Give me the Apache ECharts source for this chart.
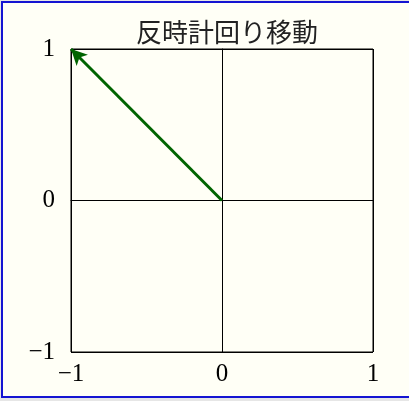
<!DOCTYPE html>
<html>
<head>
<meta charset="utf-8">
<script src="https://cdn.jsdelivr.net/npm/echarts@6/dist/echarts.min.js"></script>
<style>
  html, body { margin: 0; padding: 0; background: #e6e6e6; width: 409px; height: 401px; overflow: hidden; }
  #frame { position: absolute; left: 1px; top: 1px; width: 430px; height: 393px; border: 2px solid #1414d2; background: #fffff6; }
  #main { position: absolute; left: 0; top: 0; width: 409px; height: 401px; }
</style>
</head>
<body>
<div id="frame"></div>
<div id="main"></div>
<script>
var titleText = '反時計回り移動';
var ticks = [-1, 0, 1];
var arrowStart = [0, 0];
var arrowEnd = [-1, 1];

function fmt(v) {
    return v < 0 ? '\u2212' + Math.abs(v) : String(v);
}

var axisCommon = {
    type: 'value',
    min: ticks[0],
    max: ticks[ticks.length - 1],
    interval: 1,
    axisLine: { show: true, lineStyle: { color: '#000', width: 1 } },
    axisTick: { show: false },
    splitLine: { show: true, lineStyle: { color: '#000', width: 1 } },
    axisLabel: {
        color: '#000',
        fontFamily: 'Liberation Serif',
        fontSize: 25,
        formatter: fmt
    }
};

var option = {
    backgroundColor: 'transparent',
    animation: false,
    title: {
        text: titleText,
        left: 222,
        textAlign: 'center',
        top: 14,
        textStyle: {
            fontFamily: 'Noto Sans CJK JP',
            fontWeight: 'normal',
            fontSize: 26,
            color: '#222'
        }
    },
    grid: {
        left: 71, right: 36, top: 49, bottom: 49,
        show: true,
        borderColor: '#000',
        borderWidth: 1,
        backgroundColor: 'transparent'
    },
    xAxis: Object.assign({}, axisCommon, {
        axisLabel: Object.assign({}, axisCommon.axisLabel, { margin: 10 })
    }),
    yAxis: Object.assign({}, axisCommon, {
        axisLabel: Object.assign({}, axisCommon.axisLabel, { margin: 16 })
    }),
    series: [
        {
            type: 'line',
            data: [],
            markLine: {
                silent: true,
                symbol: ['none', 'arrow'],
                symbolSize: [12, 16],
                label: { show: false },
                lineStyle: { color: '#006400', width: 3, type: 'solid' },
                data: [[{ coord: arrowStart }, { coord: arrowEnd }]]
            }
        }
    ]
};

var myChart = echarts.init(document.getElementById('main'));
myChart.setOption(option);
</script>
</body>
</html>
